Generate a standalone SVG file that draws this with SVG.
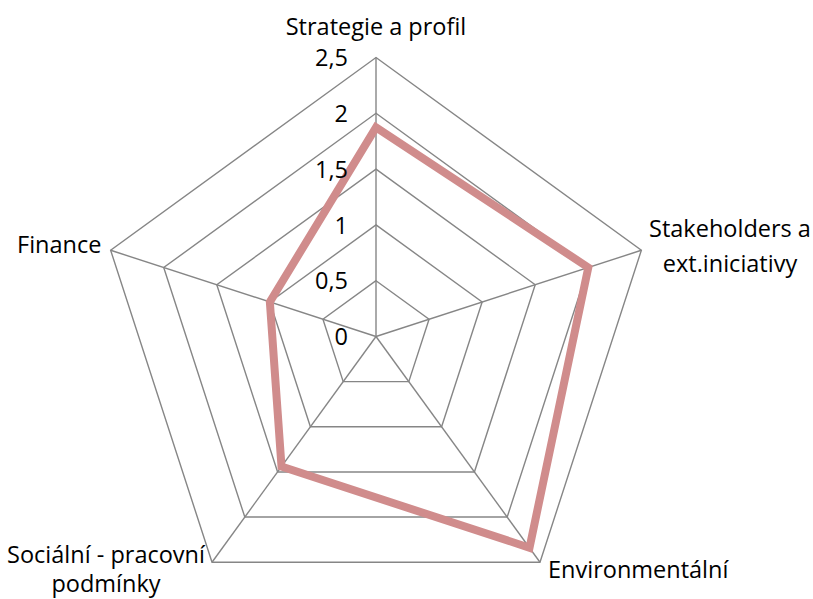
<svg xmlns="http://www.w3.org/2000/svg" width="813" height="599" viewBox="0 0 813 599">
<style>
.grid{fill:none;stroke:#868686;stroke-width:1.4;stroke-linejoin:miter}
.data{fill:none;stroke:#D08C8C;stroke-width:8;stroke-linejoin:miter}
text{font-family:"Open Sans","Noto Sans","Liberation Sans",sans-serif;font-size:23.5px;fill:#000}
.tick{text-anchor:end}
.c{text-anchor:middle}
</style>
<rect width="813" height="599" fill="#fff"/>
<g id="grid">
<polygon class="grid" points="376,280.7 429.07,319.26 408.8,381.64 343.2,381.64 322.93,319.26"/>
<polygon class="grid" points="376,224.9 482.14,302.01 441.6,426.79 310.4,426.79 269.86,302.01"/>
<polygon class="grid" points="376,169.1 535.21,284.77 474.4,471.93 277.6,471.93 216.79,284.77"/>
<polygon class="grid" points="376,113.3 588.28,267.53 507.19,517.07 244.81,517.07 163.72,267.53"/>
<polygon class="grid" points="376,57.5 641.35,250.28 539.99,562.22 212.01,562.22 110.65,250.28"/>
</g>
<g id="connectors">
<line class="grid" x1="376" y1="336.5" x2="376" y2="57.5"/>
<line class="grid" x1="376" y1="336.5" x2="641.35" y2="250.28"/>
<line class="grid" x1="376" y1="336.5" x2="539.99" y2="562.22"/>
<line class="grid" x1="376" y1="336.5" x2="212.01" y2="562.22"/>
<line class="grid" x1="376" y1="336.5" x2="110.65" y2="250.28"/>
</g>
<g id="series">
<polygon class="data" points="376,127.3 588.28,267.53 529.5,547.7 281.5,466.5 269.86,302.01"/>
</g>
<g id="ticks">
<text class="tick" x="348" y="66">2,5</text>
<text class="tick" x="348" y="122">2</text>
<text class="tick" x="348" y="177.5">1,5</text>
<text class="tick" x="348" y="233.5">1</text>
<text class="tick" x="348" y="289">0,5</text>
<text class="tick" x="348" y="345">0</text>
</g>
<g id="node-strategie"><text class="c" x="376" y="35">Strategie a profil</text></g>
<g id="node-stakeholders"><text class="c" x="730" y="237">Stakeholders a</text><text class="c" x="730" y="272">ext.iniciativy</text></g>
<g id="node-environmentalni"><text x="548" y="578">Environmentální</text></g>
<g id="node-socialni"><text class="c" x="106" y="563">Sociální - pracovní</text><text class="c" x="106" y="592">podmínky</text></g>
<g id="node-finance"><text x="17" y="253">Finance</text></g>
</svg>
